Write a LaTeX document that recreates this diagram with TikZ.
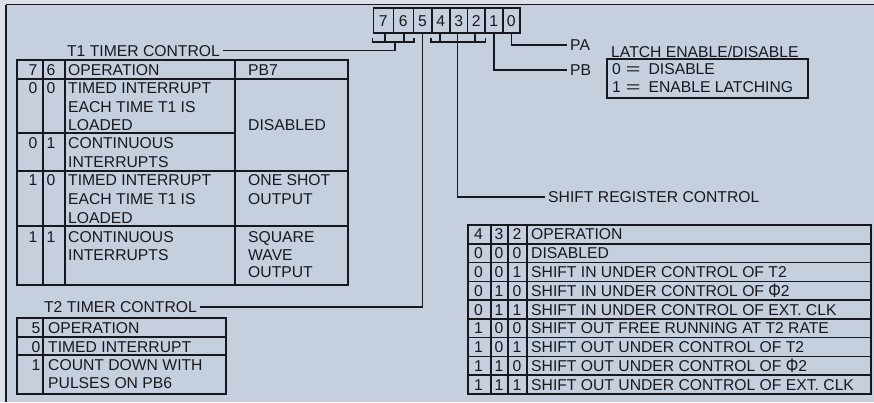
\documentclass[tikz,border=0pt]{standalone}
\usepackage{fontspec}
\usepackage{graphicx}
\setmainfont{Liberation Sans}
\definecolor{bg}{HTML}{C5CFDE}
\definecolor{strip}{HTML}{DCE1E9}
\definecolor{ink}{HTML}{181920}
\tikzset{
  txt/.style={inner sep=0pt, text height=11.2pt, text depth=0pt, anchor=west,
              font=\fontsize{15.7}{18}\selectfont, text=ink},
  dig/.style={txt, anchor=center},
  lbl/.style={txt, inner xsep=3pt},
  rule/.style={draw=ink, line width=1.6pt},
  conn/.style={draw=ink, line width=1.4pt},
  bitbox/.style={draw=ink, line width=1.6pt, minimum height=25pt, inner sep=0pt,
                 text height=11.2pt, text depth=0pt, font=\fontsize{15.7}{18}\selectfont, text=ink}
}
\newcommand{\wideeq}{\scalebox{1.6}[1]{=}}
\newcommand{\phisym}{\raisebox{-1.5pt}{\scalebox{1}[1.25]{Φ}}}
\begin{document}
\begin{tikzpicture}[x=1pt,y=-1pt]
\fill[strip] (0,0) rectangle (874,402);
\fill[bg] (6,4.5) rectangle (874,402);
\useasboundingbox (0,0) rectangle (874,402);
\draw[rule] (6,4.5) -- (874,4.5);
\draw[rule] (6,4.5) -- (6,402);

% ---- bit register ----
\foreach \n/\c/\w in {7/383.3/20, 6/403.3/20, 5/422.5/18.4, 4/440.85/18.3,
                      3/458.65/17.3, 2/476.15/17.7, 1/493.85/17.7, 0/511.35/17.3}
  \node[bitbox, minimum width=\w pt] (b\n) at (\c,20.5) {\n};

% brackets
\draw[conn] (372.7,38) -- (372.7,42) -- (414,42) -- (414,38);
\draw[conn] (385,33) -- (385,42);
\draw[conn] (404,33) -- (404,42);
\coordinate (k1) at (395,42);
\draw[conn] (431,38) -- (431,42) -- (485.7,42) -- (485.7,38);
\draw[conn] (440,33) -- (440,42);
\draw[conn] (475,33) -- (475,42);
\coordinate (k2) at (457.7,33);

% labels
\node[lbl, anchor=east] (t1) at (223,50.7) {T1 TIMER CONTROL};
\node[lbl, anchor=east] (t2) at (200,307) {T2 TIMER CONTROL};
\node[lbl] (src) at (545,197) {SHIFT REGISTER CONTROL};
\node[lbl] (pa) at (567,45) {PA};
\node[lbl] (pb) at (567,70) {PB};

\draw[conn] (k1) |- (t1.east);
\draw[conn] (b5.south) |- (t2.east);
\draw[conn] (k2) |- (src.west);
\draw[conn] (b0.south) |- (pa.west);
\draw[conn] (b1.south) |- (pb.west);

% latch
\node[txt] (lt) at (611,52) {LATCH ENABLE/DISABLE};
\draw[rule] (607,59) rectangle (808,98);
\node[txt] (l0) at (612,69) {0\hspace{5pt}\wideeq\hspace{8pt}DISABLE};
\node[txt] (l1) at (612,87) {1\hspace{5pt}\wideeq\hspace{8pt}ENABLE LATCHING};

% ---- T1 table ----
\draw[rule] (17,60) rectangle (348,285);
\draw[rule] (43,60) -- (43,285);
\draw[rule] (65,60) -- (65,285);
\draw[rule] (235,60) -- (235,285);
\draw[rule] (17,79) -- (348,79);
\draw[rule] (17,133) -- (235,133);
\draw[rule] (17,171) -- (348,171);
\draw[rule] (17,226) -- (348,226);

\foreach \y/\a/\b [count=\i] in {70/7/6, 88/0/0, 143/0/1, 180/1/0, 237/1/1} {
  \node[dig] (ta\i) at (33,\y) {\a};
  \node[dig] (tb\i) at (51,\y) {\b};
}
\foreach \y/\t [count=\i] in {70/OPERATION, 88/TIMED INTERRUPT, 107/EACH TIME T1 IS,
    125/LOADED, 143/CONTINUOUS, 162/INTERRUPTS, 180/TIMED INTERRUPT,
    199/EACH TIME T1 IS, 218/LOADED, 237/CONTINUOUS, 255/INTERRUPTS}
  \node[txt] (to\i) at (68,\y) {\t};
\foreach \y/\t [count=\i] in {70/PB7, 125/DISABLED, 180/ONE SHOT, 199/OUTPUT,
    237/SQUARE, 255/WAVE, 272/OUTPUT}
  \node[txt] (tp\i) at (248,\y) {\t};

% ---- T2 table ----
\draw[rule] (17,318) rectangle (226,394);
\draw[rule] (43,318) -- (43,394);
\draw[rule] (17,337) -- (226,337);
\draw[rule] (17,355) -- (226,355);
\foreach \y/\a [count=\i] in {328/5, 347/0, 365/1}
  \node[dig] (ua\i) at (36,\y) {\a};
\foreach \y/\t [count=\i] in {328/OPERATION, 347/TIMED INTERRUPT, 365/COUNT DOWN WITH, 383/PULSES ON PB6}
  \node[txt] (uo\i) at (48,\y) {\t};

% ---- shift register table ----
\draw[rule] (468,225) rectangle (871,394);
\draw[rule] (491,225) -- (491,394);
\draw[rule] (508,225) -- (508,394);
\draw[rule] (527,225) -- (527,394);
\foreach \k in {1,...,8}
  \draw[rule] (468,{225+18.78*\k}) -- (871,{225+18.78*\k});
\foreach \a/\b/\c/\t [count=\i from 0] in {4/3/2/OPERATION, 0/0/0/DISABLED,
    0/0/1/SHIFT IN UNDER CONTROL OF T2, 0/1/0/SHIFT IN UNDER CONTROL OF \phisym 2,
    0/1/1/SHIFT IN UNDER CONTROL OF EXT. CLK, 1/0/0/SHIFT OUT FREE RUNNING AT T2 RATE,
    1/0/1/SHIFT OUT UNDER CONTROL OF T2, 1/1/0/SHIFT OUT UNDER CONTROL OF \phisym 2,
    1/1/1/SHIFT OUT UNDER CONTROL OF EXT. CLK} {
  \node[dig] (sa\i) at (478.5,{225+18.78*(\i+0.5)}) {\a};
  \node[dig] (sb\i) at (499,{225+18.78*(\i+0.5)}) {\b};
  \node[dig] (sc\i) at (517,{225+18.78*(\i+0.5)}) {\c};
  \node[txt] (st\i) at (531,{225+18.78*(\i+0.5)}) {\t};
}
\end{tikzpicture}
\end{document}
